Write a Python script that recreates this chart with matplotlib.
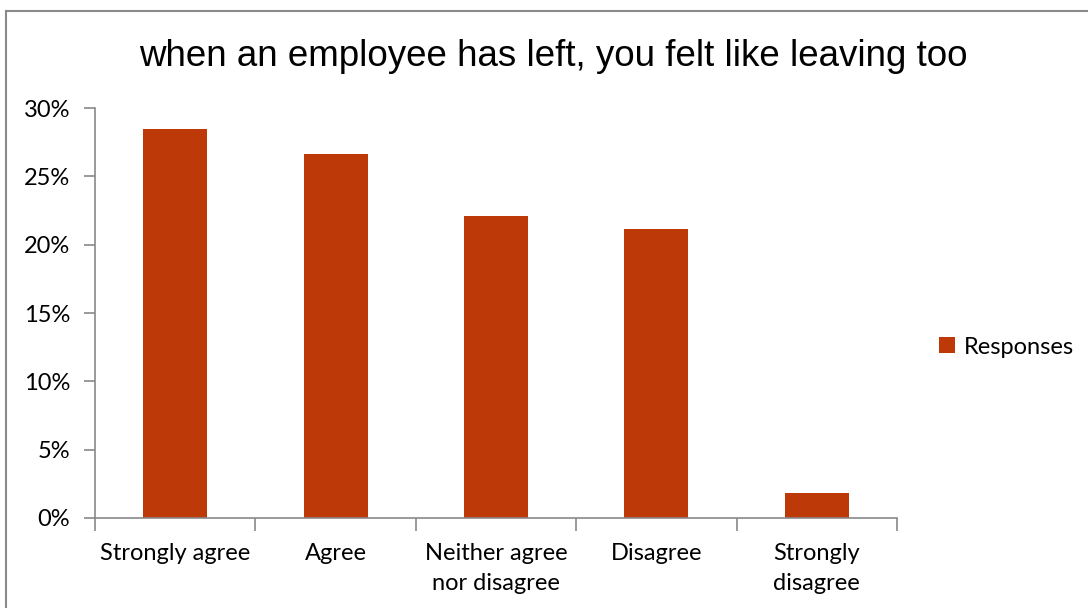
import matplotlib.pyplot as plt
from matplotlib.ticker import PercentFormatter, FixedLocator

categories = ['Strongly agree', 'Agree', 'Neither agree\nnor disagree', 'Disagree', 'Strongly\ndisagree']
responses = [28.45, 26.6, 22.1, 21.15, 1.85]
yticks = [0, 5, 10, 15, 20, 25, 30]

bar_color = '#BD3A08'
axis_gray = '#898989'

fig = plt.figure(figsize=(10.88, 6.08), dpi=100)
ax = fig.add_axes([95 / 1088, 90 / 608, 802 / 1088, 410 / 608])

x = list(range(len(categories)))
ax.bar(x, responses, width=0.4, color=bar_color, label='Responses')

ax.set_xlim(-0.5, len(categories) - 0.5)
ax.set_ylim(0, 30)
ax.set_yticks(yticks)
ax.yaxis.set_major_formatter(PercentFormatter(decimals=0))

# labels sit at the bar centres, tick marks at the category boundaries
ax.set_xticks(x)
ax.set_xticklabels(categories, fontname='Lato', fontsize=17, linespacing=1.55)
ax.xaxis.set_minor_locator(FixedLocator([i - 0.5 for i in range(len(categories) + 1)]))
ax.tick_params(axis='x', which='major', length=0, pad=18)
ax.tick_params(axis='x', which='minor', length=9, color=axis_gray, width=1.2)
ax.tick_params(axis='y', length=8, color=axis_gray, width=1.2, pad=10, labelsize=17)
for lbl in ax.get_yticklabels():
    lbl.set_fontname('Lato')

for side in ['top', 'right']:
    ax.spines[side].set_visible(False)
for side in ['left', 'bottom']:
    ax.spines[side].set_color(axis_gray)
    ax.spines[side].set_linewidth(1.2)

fig.text(553 / 1088, 1 - 57 / 608, 'when an employee has left, you felt like leaving too',
         ha='center', va='center', fontname='Liberation Sans', fontsize=26.5)

leg = fig.legend(loc='center left', bbox_to_anchor=(918 / 1088, 1 - 347 / 608), frameon=False,
                 handlelength=0.65, handleheight=0.65, handletextpad=0.4,
                 prop={'family': 'Lato', 'size': 17})

# outer chart border (top and left edges)
fig.add_artist(plt.Line2D([6 / 1088, 1], [1 - 11 / 608, 1 - 11 / 608], color=axis_gray, lw=1.5))
fig.add_artist(plt.Line2D([6 / 1088, 6 / 1088], [0, 1 - 11 / 608], color=axis_gray, lw=1.5))

fig.savefig('out.png', dpi=100)
